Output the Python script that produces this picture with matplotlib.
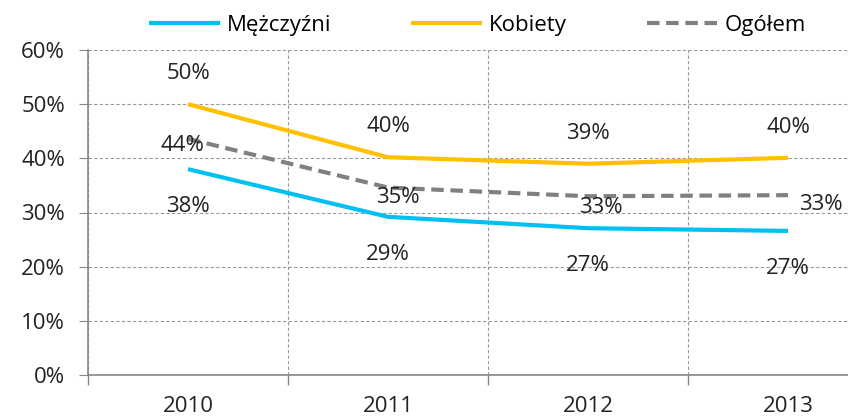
import matplotlib
matplotlib.use('Agg')
import matplotlib.pyplot as plt
from matplotlib.ticker import FixedLocator, PercentFormatter

# Data
years = ['2010', '2011', '2012', '2013']
men = [38.0, 29.2, 27.1, 26.6]
women = [50.0, 40.2, 39.0, 40.1]
total = [43.6, 34.6, 33.0, 33.2]
men_labels = ['38%', '29%', '27%', '27%']
women_labels = ['50%', '40%', '39%', '40%']
total_labels = ['44%', '35%', '33%', '33%']

plt.rcParams['font.family'] = ['Open Sans', 'DejaVu Sans']
FS = 16

fig = plt.figure(figsize=(8.48, 4.2), dpi=100)
ax = fig.add_axes([88 / 848, 45 / 420, 800 / 848, 325 / 420])

x = list(range(len(years)))
ax.plot(x, men, color='#00C0F2', lw=3, label='Mężczyźni', solid_capstyle='butt')
ax.plot(x, women, color='#FFC000', lw=3, label='Kobiety', solid_capstyle='butt')
ax.plot(x, total, color='#808080', lw=3, ls=(0, (3.0, 1.6)), label='Ogółem')

txt = dict(fontsize=FS, color='#222222', ha='center', va='center')
for i in x:
    ax.annotate(women_labels[i], (i, women[i]), xytext=(0, 22), textcoords='offset points', **txt)
    ax.annotate(men_labels[i], (i, men[i]), xytext=(0, -27), textcoords='offset points', **txt)
total_off = [(-4, -5), (7, -7), (9, -8), (24, -7)]
for i in x:
    ax.annotate(total_labels[i], (i, total[i]), xytext=total_off[i], textcoords='offset points', **txt)

ax.set_xlim(-0.5, 3.5)
ax.set_ylim(0, 60)
ax.yaxis.set_major_locator(FixedLocator([0, 10, 20, 30, 40, 50, 60]))
ax.yaxis.set_major_formatter(PercentFormatter(decimals=0))
ax.set_xticks(x)
ax.set_xticklabels(years)
ax.xaxis.set_minor_locator(FixedLocator([-0.5, 0.5, 1.5, 2.5, 3.5]))
ax.tick_params(axis='x', which='major', length=0, labelsize=FS, pad=15, colors='#222222')
ax.tick_params(axis='x', which='minor', length=7, color='#868686', width=1)
ax.tick_params(axis='y', length=6.5, color='#868686', labelsize=FS, labelcolor='#222222', pad=10)

ax.grid(axis='y', which='major', color='#999999', ls=(0, (3, 2)), lw=0.8)
ax.grid(axis='x', which='minor', color='#999999', ls=(0, (3, 2)), lw=0.8)
for s in ['top', 'right']:
    ax.spines[s].set_visible(False)
for s in ['left', 'bottom']:
    ax.spines[s].set_color('#868686')
    ax.spines[s].set_linewidth(1.2)

fig.legend(loc='center', bbox_to_anchor=(0.563, 0.94), ncol=3, frameon=False,
           fontsize=FS, handlelength=3.2, handletextpad=0.3, columnspacing=3.6)

fig.savefig('out.png', dpi=100)
